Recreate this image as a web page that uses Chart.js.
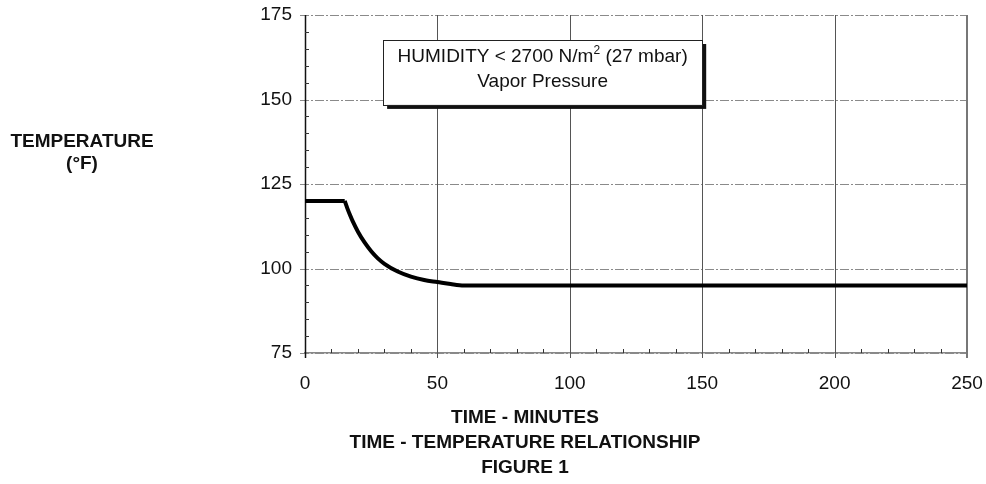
<!DOCTYPE html>
<html>
<head>
<meta charset="utf-8">
<script src="https://cdn.jsdelivr.net/npm/chart.js@4.4.1/dist/chart.umd.min.js"></script>
<style>
  html, body { margin: 0; padding: 0; background: #fff; overflow: hidden; }
  #wrap { width: 986px; height: 484px; position: relative; }
</style>
</head>
<body>
<div id="wrap"><canvas id="grafico" width="986" height="484"></canvas></div>
<script>
// dados
const tempos = [0, 15, 16, 17, 18, 20, 22.5, 25, 27.5, 30, 35, 40, 45, 50, 55, 60, 250];
const temperaturas = [120, 120, 117.8, 115.8, 114, 110.9, 107.7, 105.1, 103, 101.4, 99.1, 97.6, 96.6, 96, 95.4, 95, 95];
const inicioQueda = 1; // índice onde a curva começa a cair
const ticksX = [0, 50, 100, 150, 200, 250];
const ticksY = [75, 100, 125, 150, 175];
const tituloY = ['TEMPERATURE', '(°F)'];
const titulosX = ['TIME - MINUTES', 'TIME - TEMPERATURE RELATIONSHIP', 'FIGURE 1'];
const notaLinhas = ['HUMIDITY < 2700 N/m', '2', ' (27 mbar)', 'Vapor Pressure'];
// caixa da nota em coordenadas de dados [x0, x1, yTopo, yBase]
const notaCaixa = [29.5, 150, 167.6, 148.4];

const FONTE = '"Liberation Sans", Arial, sans-serif';

const pontos = tempos.map((t, i) => ({ x: t, y: temperaturas[i] }));

// grade, ticks menores, títulos e nota
const desenhoExtra = {
  id: 'desenhoExtra',
  beforeDatasetsDraw(chart) {
    const { ctx, chartArea: a, scales: { x, y } } = chart;
    ctx.save();
    // linhas horizontais traço-ponto
    ctx.strokeStyle = '#8a8a8a';
    ctx.lineWidth = 1;
    ctx.setLineDash([9, 2, 2, 2]);
    ticksY.forEach(v => {
      const py = Math.round(y.getPixelForValue(v)) + 0.5;
      ctx.beginPath();
      ctx.moveTo(a.left - 5, py);
      ctx.lineTo(a.right, py);
      ctx.stroke();
    });
    // linhas verticais
    ctx.setLineDash([]);
    ctx.strokeStyle = '#555';
    ticksX.forEach(v => {
      const px = Math.round(x.getPixelForValue(v)) + 0.5;
      ctx.beginPath();
      ctx.moveTo(px, a.top);
      ctx.lineTo(px, a.bottom + 5);
      ctx.stroke();
    });
    // eixo esquerdo
    ctx.strokeStyle = '#111';
    ctx.lineWidth = 1.5;
    ctx.beginPath();
    ctx.moveTo(a.left + 0.5, a.top);
    ctx.lineTo(a.left + 0.5, a.bottom + 5);
    ctx.stroke();
    // borda direita
    ctx.strokeStyle = '#777';
    ctx.lineWidth = 2;
    ctx.beginPath();
    ctx.moveTo(a.right, a.top);
    ctx.lineTo(a.right, a.bottom + 5);
    ctx.stroke();
    // ticks menores
    ctx.strokeStyle = '#333';
    ctx.lineWidth = 1;
    for (let v = 80; v < 175; v += 5) {
      if (v % 25 === 0) continue;
      const py = Math.round(y.getPixelForValue(v)) + 0.5;
      ctx.beginPath();
      ctx.moveTo(a.left, py);
      ctx.lineTo(a.left + 4, py);
      ctx.stroke();
    }
    for (let v = 10; v < 250; v += 10) {
      if (v % 50 === 0) continue;
      const px = Math.round(x.getPixelForValue(v)) + 0.5;
      ctx.beginPath();
      ctx.moveTo(px, a.bottom);
      ctx.lineTo(px, a.bottom - 4);
      ctx.stroke();
    }
    ctx.restore();
  },
  afterDraw(chart) {
    const { ctx, scales: { x, y } } = chart;
    ctx.save();
    ctx.fillStyle = '#111';
    ctx.textAlign = 'center';
    ctx.textBaseline = 'middle';
    ctx.font = 'bold 19px ' + FONTE;
    ctx.fillText(tituloY[0], 82, 142);
    ctx.fillText(tituloY[1], 82, 164);
    ctx.fillText(titulosX[0], 525, 418);
    ctx.fillText(titulosX[1], 525, 443);
    ctx.fillText(titulosX[2], 525, 468);

    // caixa da nota
    const x0 = x.getPixelForValue(notaCaixa[0]);
    const x1 = x.getPixelForValue(notaCaixa[1]);
    const y0 = y.getPixelForValue(notaCaixa[2]);
    const y1 = y.getPixelForValue(notaCaixa[3]);
    ctx.fillStyle = '#111';
    ctx.fillRect(x0 + 4, y0 + 4, x1 - x0, y1 - y0);
    ctx.fillStyle = '#fff';
    ctx.fillRect(x0, y0, x1 - x0, y1 - y0);
    ctx.strokeStyle = '#222';
    ctx.lineWidth = 1;
    ctx.strokeRect(Math.round(x0) + 0.5, Math.round(y0) + 0.5, Math.round(x1 - x0), Math.round(y1 - y0));

    const cx = (x0 + x1) / 2;
    ctx.fillStyle = '#111';
    ctx.font = '19px ' + FONTE;
    const w1 = ctx.measureText(notaLinhas[0]).width;
    const w3 = ctx.measureText(notaLinhas[2]).width;
    ctx.font = '12px ' + FONTE;
    const w2 = ctx.measureText(notaLinhas[1]).width;
    let px = cx - (w1 + w2 + w3) / 2;
    const linha1 = y0 + 17;
    ctx.textAlign = 'left';
    ctx.font = '19px ' + FONTE;
    ctx.fillText(notaLinhas[0], px, linha1);
    px += w1;
    ctx.font = '12px ' + FONTE;
    ctx.fillText(notaLinhas[1], px, linha1 - 6);
    px += w2;
    ctx.font = '19px ' + FONTE;
    ctx.fillText(notaLinhas[2], px, linha1);
    ctx.textAlign = 'center';
    ctx.fillText(notaLinhas[3], cx, y0 + 42);
    ctx.restore();
  }
};

const estiloLinha = {
  borderColor: '#000',
  borderWidth: 4,
  pointRadius: 0,
  borderJoinStyle: 'round',
  fill: false
};

new Chart(document.getElementById('grafico'), {
  type: 'line',
  data: {
    datasets: [
      // patamar inicial
      Object.assign({ data: pontos.slice(0, inicioQueda + 1), tension: 0 }, estiloLinha),
      // queda e patamar final
      Object.assign({ data: pontos.slice(inicioQueda), cubicInterpolationMode: 'monotone' }, estiloLinha)
    ]
  },
  options: {
    responsive: false,
    animation: false,
    devicePixelRatio: 1,
    layout: { padding: { top: 15, right: 19, left: 0, bottom: 0 } },
    plugins: { legend: { display: false }, tooltip: { enabled: false } },
    scales: {
      x: {
        type: 'linear',
        min: 0,
        max: 250,
        afterFit: s => { s.height = 131; s.paddingLeft = 0; s.paddingRight = 0; },
        afterBuildTicks: s => { s.ticks = ticksX.map(v => ({ value: v })); },
        grid: { display: false },
        border: { display: true, color: '#888', width: 1.5, dash: [9, 2, 2, 2] },
        ticks: { color: '#111', padding: 11, maxRotation: 0, font: { family: FONTE, size: 19 } }
      },
      y: {
        min: 75,
        max: 175,
        afterFit: s => { s.width = 305; s.paddingTop = 0; s.paddingBottom = 0; },
        afterBuildTicks: s => { s.ticks = ticksY.map(v => ({ value: v })); },
        grid: { display: false },
        border: { display: false },
        ticks: { color: '#111', padding: 5, font: { family: FONTE, size: 19 } }
      }
    }
  },
  plugins: [desenhoExtra]
});
</script>
</body>
</html>
